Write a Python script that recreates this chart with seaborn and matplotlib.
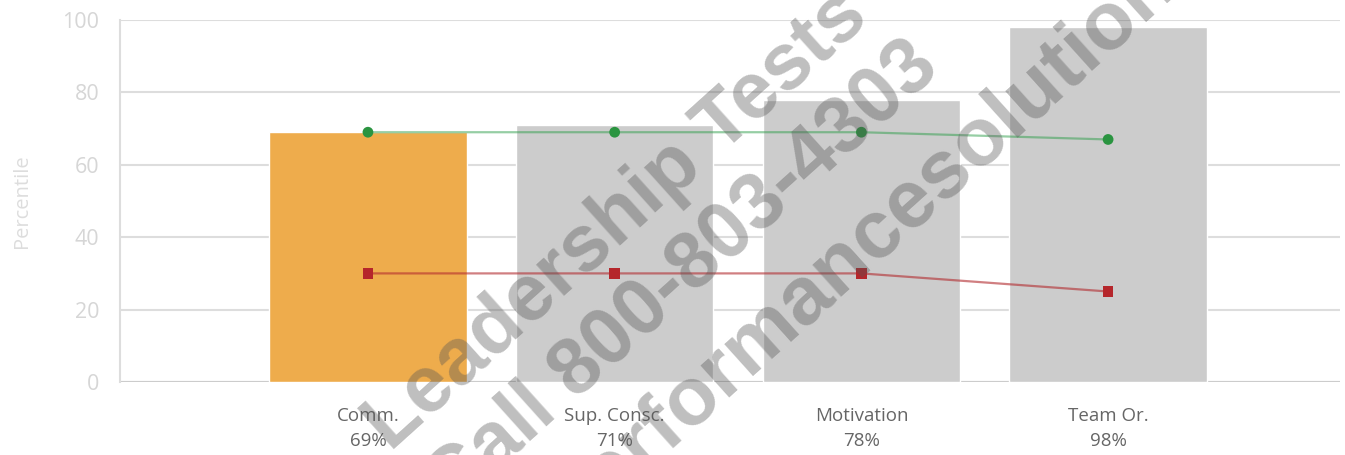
import matplotlib
matplotlib.use("Agg")
import matplotlib.pyplot as plt
import seaborn as sns

# Scale names and their percentile scores (bars)
categories = ["Comm.", "Sup. Consc.", "Motivation", "Team Or."]
scores = [69, 71, 78, 98]
# Reference lines drawn across the bars
upper_ref = [69, 69, 69, 67]
lower_ref = [30, 30, 30, 25]
bar_colors = ["#EEAC4C", "#CCCCCC", "#CCCCCC", "#CCCCCC"]
y_ticks = [0, 20, 40, 60, 80, 100]

W, H = 1345, 455

sns.set_style("white")
plt.rcParams["font.family"] = ["Open Sans", "DejaVu Sans"]

fig = plt.figure(figsize=(W / 100, H / 100), dpi=100)
ax = fig.add_axes([120 / W, 1 - 382 / H, 1220 / W, 362 / H])

sns.barplot(x=categories, y=scores, hue=categories, palette=bar_colors,
            legend=False, width=0.8, saturation=1, ax=ax, zorder=2)

xs = list(range(len(categories)))
# green line: semi-transparent stroke, solid markers
ax.plot(xs, upper_ref, color="#2E9E4A", lw=1.6, alpha=0.5, zorder=3)
sns.scatterplot(x=xs, y=upper_ref, color="#2A9440", s=60, marker="o",
                edgecolor="none", ax=ax, zorder=4)
ax.plot(xs, lower_ref, color="#B22A2E", lw=1.6, alpha=0.6, zorder=3)
sns.scatterplot(x=xs, y=lower_ref, color="#B5262B", s=60, marker="s",
                edgecolor="none", ax=ax, zorder=4)

ax.set_xlim(-1.005, 3.94)
ax.set_ylim(0, 100)
ax.set_yticks(y_ticks)
ax.set_xticks(xs)
ax.set_xticklabels([f"{c}\n{s}%" for c, s in zip(categories, scores)],
                   fontsize=13.5, color="#666666", linespacing=1.5)
ax.tick_params(axis="x", length=5, width=1, color="#CCCCCC", pad=13)
ax.tick_params(axis="y", length=12, width=1.5, color="#DDDDDD", labelsize=15.5,
               labelcolor="#D6D6D6", pad=3)

ax.grid(axis="y", color="#DDDDDD", lw=1.5, zorder=0)
ax.set_axisbelow(True)
for side in ["top", "right", "bottom"]:
    ax.spines[side].set_visible(False)
ax.spines["left"].set_color("#DDDDDD")
ax.spines["left"].set_linewidth(1.5)
ax.axhline(0, color="#CCCCCC", lw=1.5, zorder=1)

ax.set_xlabel("")
ax.set_ylabel("Percentile", fontsize=14.5, color="#DDDDDD", labelpad=22)

# diagonal watermark (runs off the edges, as in the original)
wm = dict(fontweight="bold", color="#555555", alpha=0.38,
          rotation=42, ha="center", va="baseline", rotation_mode="anchor",
          family="Liberation Sans", zorder=10)
fig.text(631 / W, 1 - 236 / H, "Leadership Tests", fontsize=57, **wm)
fig.text(696 / W, 1 - 292 / H, "Call 800-803-4303", fontsize=57, **wm)
fig.text(893 / W, 1 - 246 / H, "performancesolutions", fontsize=59, **wm)

fig.savefig("out.png", dpi=100)
